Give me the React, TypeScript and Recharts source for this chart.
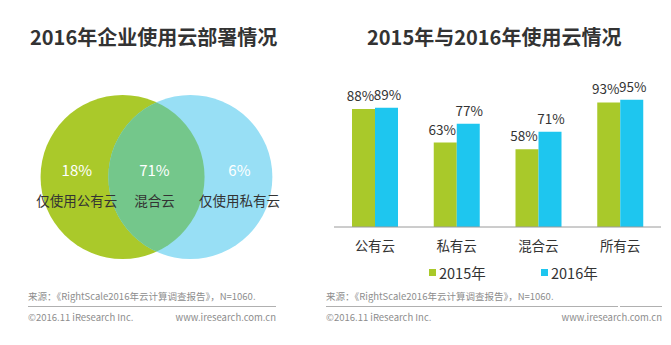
import React from "react";
import {
  BarChart,
  Bar,
  XAxis,
  YAxis,
  LabelList,
  ScatterChart,
  Scatter,
} from "recharts";

// Venn (left panel)
const circleNames = ["公有云", "私有云"];
const circleX = [0, 0.83];
const regionNames = ["仅使用公有云", "混合云", "仅使用私有云"];
const regionShares = [18, 71, 6];
const regionX = [-0.56, 0.39, 1.43];

// bars (right panel)
const categories = ["公有云", "私有云", "混合云", "所有云"];
const values2015 = [88, 63, 58, 93];
const values2016 = [89, 77, 71, 95];
const seriesNames = ["2015年", "2016年"];

const GREEN = "#a9c92a";
const BLUE = "#1ec6ef";
const VENN_GREEN = "#aac92a";
const VENN_BLUE = "#98dff5";
const VENN_MIX = "#74c78b";
const TEXT = "#333";
const FONT = "'Noto Sans CJK SC', 'Noto Sans', sans-serif";
const R = 82;

const circleData = circleNames.map((name, i) => ({ name, x: circleX[i], y: 0 }));
const regionData = regionNames.map((name, i) => ({
  name,
  share: regionShares[i],
  x: regionX[i],
  y: 0,
}));
const barData = categories.map((name, i) => ({
  name,
  y2015: values2015[i],
  y2016: values2016[i],
}));

const CircleShape = (props: any) => {
  const { cx, cy, payload } = props;
  if (payload.name === circleNames[0]) {
    return (
      <g>
        <defs>
          <clipPath id="venn-clip-public">
            <circle cx={cx} cy={cy} r={R} />
          </clipPath>
        </defs>
        <circle cx={cx} cy={cy} r={R} fill={VENN_GREEN} />
      </g>
    );
  }
  return (
    <g>
      <circle cx={cx} cy={cy} r={R} fill={VENN_BLUE} />
      <circle cx={cx} cy={cy} r={R} fill={VENN_MIX} clipPath="url(#venn-clip-public)" />
    </g>
  );
};

const RegionShape = (props: any) => {
  const { cx, cy, payload } = props;
  return (
    <g style={{ fontFamily: FONT }}>
      <text x={cx} y={cy - 8} textAnchor="middle" dominantBaseline="central" fill="#fff" fontSize={15}>
        {payload.share}%
      </text>
      <text x={cx} y={cy + 23} textAnchor="middle" dominantBaseline="central" fill={TEXT} fontSize={13.5}>
        {payload.name}
      </text>
    </g>
  );
};

const Footer = ({ left, width, gapAt }: { left: number; width: number; gapAt?: number }) => (
  <>
    <div style={{ position: "absolute", left, top: 289, fontSize: 9.5, color: "#8d8d8d", whiteSpace: "nowrap" }}>
      来源：《RightScale2016年云计算调查报告》，N=1060.
    </div>
    <div style={{ position: "absolute", left, top: 306, width: gapAt ?? width, height: 1, background: "#b0b0b0" }} />
    {gapAt && (
      <div style={{ position: "absolute", left: left + gapAt + 2, top: 306, width: width - gapAt - 2, height: 1, background: "#b0b0b0" }} />
    )}
    <div style={{ position: "absolute", left, top: 310, width, fontSize: 9.5, color: "#8d8d8d", display: "flex", justifyContent: "space-between", whiteSpace: "nowrap" }}>
      <span>©2016.11 iResearch Inc.</span>
      <span>www.iresearch.com.cn</span>
    </div>
  </>
);

export default function App() {
  const legendColors = [GREEN, BLUE];
  return (
    <div style={{ position: "absolute", left: 0, top: 0, width: 671, height: 345, background: "#fff", fontFamily: FONT, color: TEXT, overflow: "hidden" }}>
      <div style={{ position: "absolute", left: 30, top: 22, fontSize: 20, fontWeight: 700, whiteSpace: "nowrap" }}>
        2016年企业使用云部署情况
      </div>
      <div style={{ position: "absolute", left: 367, top: 22, fontSize: 20, fontWeight: 700, whiteSpace: "nowrap" }}>
        2015年与2016年使用云情况
      </div>

      <div style={{ position: "absolute", left: 0, top: 79 }}>
        <ScatterChart width={335} height={196} margin={{ top: 0, right: 0, bottom: 0, left: 0 }}>
          <XAxis type="number" dataKey="x" domain={[-1.5, 2.6]} hide />
          <YAxis type="number" dataKey="y" domain={[-1.2, 1.2]} hide />
          <Scatter data={circleData} shape={CircleShape} isAnimationActive={false} />
          <Scatter data={regionData} shape={RegionShape} isAnimationActive={false} />
        </ScatterChart>
      </div>

      <div style={{ position: "absolute", left: 334, top: 60 }}>
        <BarChart
          width={327}
          height={199}
          data={barData}
          margin={{ top: 33, right: 0, bottom: 0, left: 0 }}
          barGap={0}
        >
          <XAxis
            dataKey="name"
            tickLine={false}
            axisLine={{ stroke: "#9a9a9a" }}
            tick={{ fill: TEXT, fontSize: 13.5 }}
            tickMargin={8}
            height={32}
          />
          <YAxis domain={[0, 100]} hide />
          <Bar dataKey="y2015" fill={GREEN} barSize={23} isAnimationActive={false}>
            <LabelList dataKey="y2015" position="top" offset={8} dx={-3} fill={TEXT} fontSize={13.5} formatter={(v: any) => `${v}%`} />
          </Bar>
          <Bar dataKey="y2016" fill={BLUE} barSize={23} isAnimationActive={false}>
            <LabelList dataKey="y2016" position="top" offset={8} dx={1} fill={TEXT} fontSize={13.5} formatter={(v: any) => `${v}%`} />
          </Bar>
        </BarChart>
      </div>

      {seriesNames.map((s, i) => (
        <div key={s} style={{ position: "absolute", left: [429, 541][i], top: 262, display: "flex", alignItems: "center", fontSize: 14.5, whiteSpace: "nowrap" }}>
          <span style={{ display: "inline-block", width: 7, height: 7, background: legendColors[i], marginRight: 3 }} />
          {s}
        </div>
      ))}

      <Footer left={28} width={248} />
      <Footer left={326} width={336} gapAt={292} />
    </div>
  );
}
